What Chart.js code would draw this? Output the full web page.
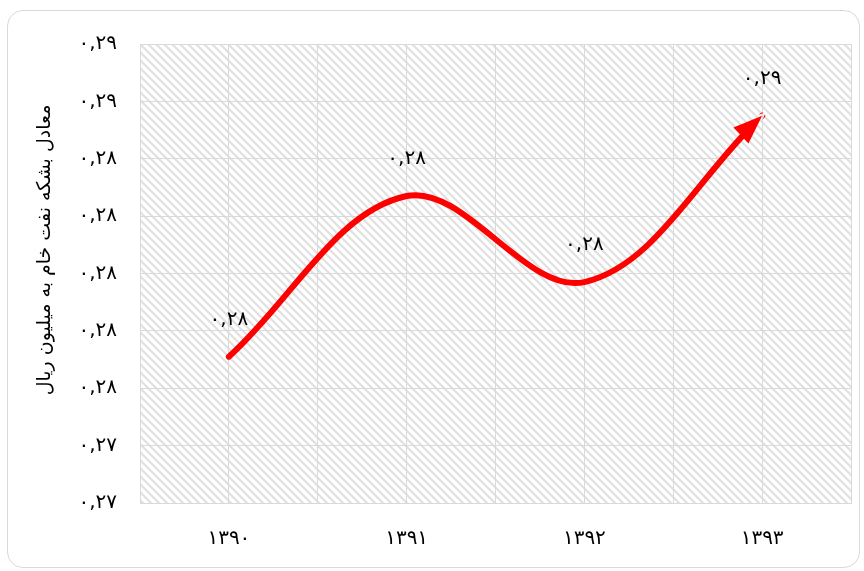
<!DOCTYPE html>
<html>
<head>
<meta charset="utf-8">
<script src="https://cdn.jsdelivr.net/npm/chart.js@4/dist/chart.umd.min.js"></script>
<style>
    html, body { margin: 0; padding: 0; background: #fff; }
    #wrap { position: relative; width: 864px; height: 571px; }
    #frame {
        position: absolute; left: 7px; top: 10px; width: 851px; height: 556px;
        border: 1.5px solid #d9d9d9; border-radius: 16px; pointer-events: none;
    }
    canvas { position: absolute; left: 0; top: 0; }
</style>
</head>
<body>
<div id="wrap">
    <div id="frame"></div>
    <canvas id="chart" width="864" height="571"></canvas>
</div>
<script>
// Chart data
const years = ['۱۳۹۰', '۱۳۹۱', '۱۳۹۲', '۱۳۹۳'];
const values = [0.2771, 0.2827, 0.2797, 0.2855];
const valueLabels = ['۰,۲۸', '۰,۲۸', '۰,۲۸', '۰,۲۹'];
const yTickLabels = ['۰,۲۷', '۰,۲۷', '۰,۲۸', '۰,۲۸', '۰,۲۸', '۰,۲۸', '۰,۲۸', '۰,۲۹', '۰,۲۹'];
const yTitle = 'معادل بشکه نفت خام به میلیون ریال';

const FONT = "'DejaVu Sans', sans-serif";
const GRID = '#d9d9d9';

// Diagonal hatch for the plot area
function makeHatch(ctx) {
    const c = document.createElement('canvas');
    c.width = 8;
    c.height = 8;
    const g = c.getContext('2d');
    g.fillStyle = '#ffffff';
    g.fillRect(0, 0, 8, 8);
    g.strokeStyle = '#e0e0e0';
    g.lineWidth = 2.2;
    g.beginPath();
    g.moveTo(-2, -2); g.lineTo(10, 10);
    g.moveTo(-2, 6); g.lineTo(2, 10);
    g.moveTo(6, -2); g.lineTo(10, 2);
    g.stroke();
    return ctx.createPattern(c, 'repeat');
}

const hatchPlugin = {
    id: 'hatch',
    beforeDraw(chart) {
        const { ctx, chartArea: a } = chart;
        if (!chart.$hatch) chart.$hatch = makeHatch(ctx);
        ctx.save();
        ctx.fillStyle = chart.$hatch;
        ctx.fillRect(a.left, a.top, a.right - a.left, a.bottom - a.top);
        ctx.restore();
    },
    afterDraw(chart) {
        // rotated axis title
        const { ctx } = chart;
        ctx.save();
        ctx.translate(45, 250);
        ctx.rotate(-Math.PI / 2);
        ctx.fillStyle = '#000';
        ctx.font = '19px ' + FONT;
        ctx.textAlign = 'center';
        ctx.textBaseline = 'middle';
        ctx.fillText(yTitle, 0, 0);
        ctx.restore();
    }
};

// Arrow head at the last point, following the curve tangent
function arrowGeometry(chart) {
    const pts = chart.getDatasetMeta(0).data;
    const last = pts[pts.length - 1];
    let dx = last.x - last.cp1x;
    let dy = last.y - last.cp1y;
    const d = Math.hypot(dx, dy) || 1;
    const u = { x: dx / d, y: dy / d };
    const n = { x: -u.y, y: u.x };
    return { tip: { x: last.x, y: last.y }, u, n, len: 29, hw: 11 };
}

const arrowPlugin = {
    id: 'arrowHead',
    beforeDatasetsDraw(chart) {
        const { ctx } = chart;
        const { tip, u, n, len, hw } = arrowGeometry(chart);
        const bx = tip.x - u.x * (len - 3), by = tip.y - u.y * (len - 3);
        ctx.save();
        ctx.beginPath();
        ctx.rect(0, 0, chart.width, chart.height);
        ctx.moveTo(tip.x + u.x * 5, tip.y + u.y * 5);
        ctx.lineTo(bx + n.x * (hw + 3), by + n.y * (hw + 3));
        ctx.lineTo(bx - n.x * (hw + 3), by - n.y * (hw + 3));
        ctx.closePath();
        ctx.clip('evenodd');
    },
    afterDatasetsDraw(chart) {
        const { ctx } = chart;
        ctx.restore();
        const { tip, u, n, len, hw } = arrowGeometry(chart);
        const bx = tip.x - u.x * len, by = tip.y - u.y * len;
        ctx.save();
        ctx.fillStyle = '#ff0000';
        ctx.beginPath();
        ctx.moveTo(tip.x, tip.y);
        ctx.lineTo(bx + n.x * hw, by + n.y * hw);
        ctx.lineTo(bx - n.x * hw, by - n.y * hw);
        ctx.closePath();
        ctx.fill();

        // value labels above the points
        ctx.fillStyle = '#000';
        ctx.font = '20px ' + FONT;
        ctx.textAlign = 'center';
        ctx.textBaseline = 'middle';
        chart.getDatasetMeta(0).data.forEach((p, i) => {
            ctx.fillText(valueLabels[i], p.x, p.y - 37);
        });
        ctx.restore();
    }
};

const ctx = document.getElementById('chart').getContext('2d');
new Chart(ctx, {
    type: 'line',
    data: {
        datasets: [{
            data: values.map((v, i) => ({ x: i, y: v })),
            borderColor: '#ff0000',
            borderWidth: 6,
            borderCapStyle: 'round',
            tension: 0.36,
            pointRadius: 0,
            fill: false
        }]
    },
    options: {
        responsive: false,
        animation: false,
        devicePixelRatio: 1,
        layout: { padding: { top: 44, right: 13, bottom: 0, left: 0 } },
        plugins: {
            legend: { display: false },
            tooltip: { enabled: false }
        },
        scales: {
            x: {
                type: 'linear',
                min: -0.5,
                max: 3.5,
                afterFit: (s) => { s.height = 68; s.paddingLeft = 0; s.paddingRight = 0; },
                grid: { color: GRID, lineWidth: 1, drawTicks: false },
                border: { color: GRID, width: 1 },
                ticks: {
                    stepSize: 0.5,
                    autoSkip: false,
                    maxRotation: 0,
                    padding: 24,
                    color: '#000',
                    font: { family: FONT, size: 20 },
                    callback: (v) => Number.isInteger(v) && years[v] ? years[v] : ''
                }
            },
            y: {
                min: 0.272,
                max: 0.288,
                afterFit: (s) => { s.width = 140; },
                grid: { color: GRID, lineWidth: 1, drawTicks: false },
                border: { color: GRID, width: 1 },
                ticks: {
                    stepSize: 0.002,
                    padding: 23,
                    color: '#000',
                    font: { family: FONT, size: 20 },
                    callback: (v, i) => yTickLabels[i]
                }
            }
        }
    },
    plugins: [hatchPlugin, arrowPlugin]
});
</script>
</body>
</html>
